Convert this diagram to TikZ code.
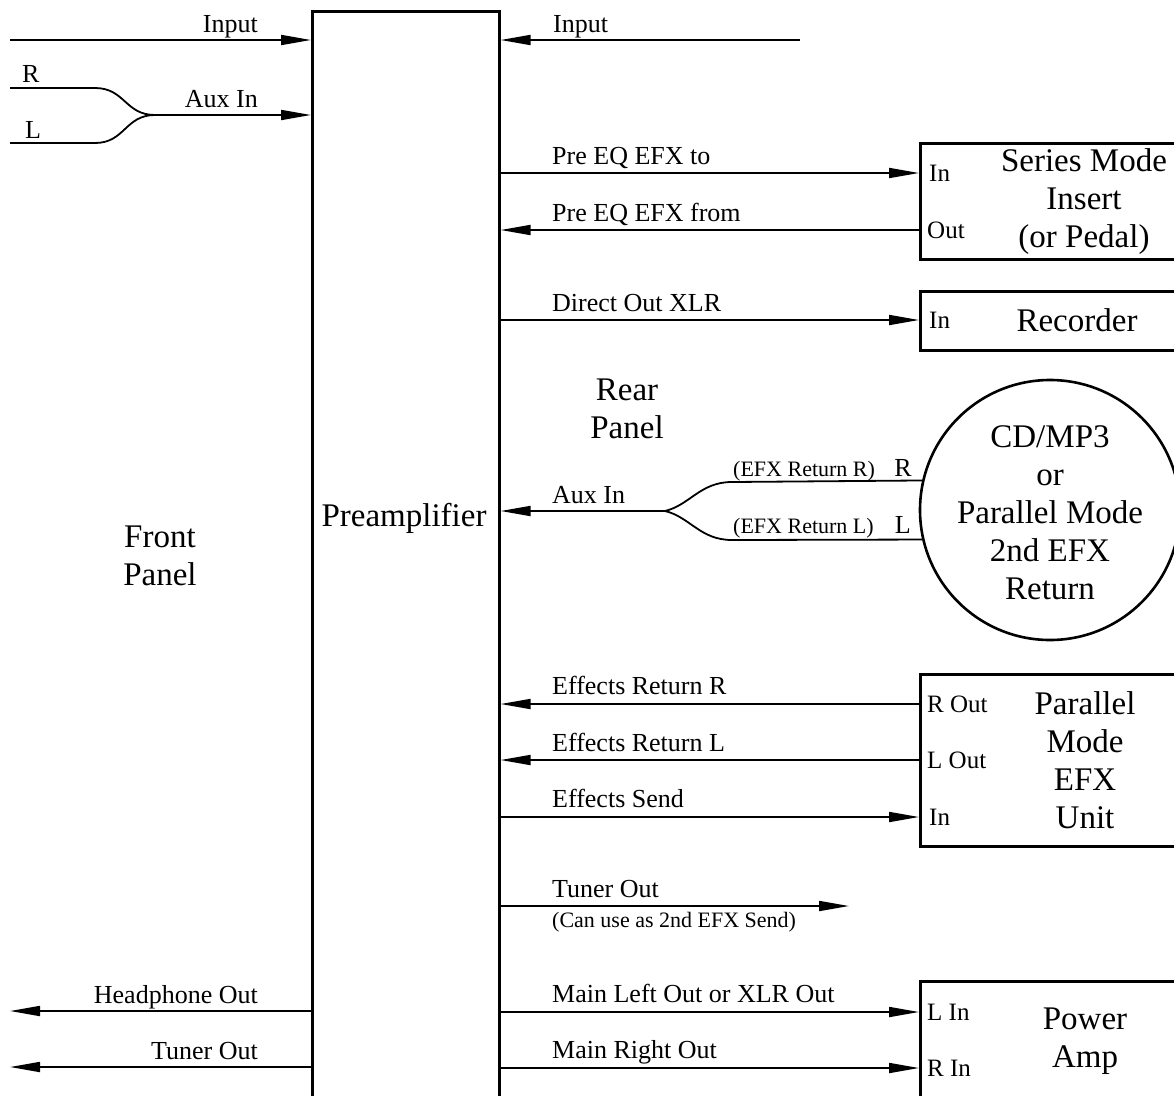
\documentclass[tikz,border=0pt]{standalone}
\usepackage{fontspec}
\setmainfont{Liberation Serif}
\usetikzlibrary{arrows.meta}
\begin{document}
\begin{tikzpicture}[x=1pt,y=-1pt,
  ln/.style={line width=1.8pt},
  arr/.style={ln,-{Triangle[length=30pt,width=10pt]}},
  boxst/.style={draw,line width=2.6pt,anchor=north west,inner sep=0pt,minimum width=300pt},
  lab/.style={font=\fontsize{26}{30}\selectfont,inner sep=0pt},
  port/.style={font=\fontsize{25}{30}\selectfont,inner sep=0pt,anchor=west},
  small/.style={font=\fontsize{22}{26}\selectfont,inner sep=0pt},
  big/.style={font=\fontsize{33}{38}\selectfont,align=center,inner sep=0pt}]
\useasboundingbox (0,0) rectangle (1174,1095);
\clip (0,0) rectangle (1174,1095);

% main blocks
\node[boxst,minimum width=187pt,minimum height=1200pt] (pre) at (311,10) {};
\node[big] (preT) at (404,518) {Preamplifier};
\node[big] (front) at (160,556) {Front\\Panel};
\node[big] (rear) at (627,409) {Rear\\Panel};

\node[boxst,minimum height=116pt] (series) at (919,142) {};
\node[big] (seriesT) at (1084,202) {Series Mode\\Insert\\(or Pedal)};
\node[boxst,minimum height=59pt] (rec) at (919,290) {};
\node[big] (recT) at (1077,320) {Recorder};
\node[draw,circle,line width=2.6pt,minimum size=260pt,inner sep=0pt] (cd) at (1050,510) {};
\node[big] (cdT) at (1050,513) {CD/MP3\\or\\Parallel Mode\\2nd EFX\\Return};
\node[boxst,minimum height=172pt] (par) at (919,673) {};
\node[big] (parT) at (1085,760) {Parallel\\Mode\\EFX\\Unit};
\node[boxst,minimum height=200pt] (pow) at (919,980) {};
\node[big] (powT) at (1085,1041) {Power\\Amp};

% front panel
\coordinate (lin) at (10,40);
\draw[arr] (lin) -- (pre.west |- lin);
\node[lab,anchor=base east] (linL) at (258,32) {Input};
\coordinate (rS) at (10,88);
\coordinate (lS) at (10,143);
\coordinate (jL) at (155,115);
\draw[ln] (rS) -- (95,88) .. controls (125,88) and (125,115) .. (jL);
\draw[ln] (lS) -- (95,143) .. controls (125,143) and (125,115) .. (jL);
\draw[arr] (jL) -- (pre.west |- jL);
\node[lab,anchor=base west] (rSL) at (22,82) {R};
\node[lab,anchor=base west] (lSL) at (25,138) {L};
\node[lab,anchor=base east] (auxL) at (258,107) {Aux In};
\coordinate (hp) at (10,1011);
\draw[arr] (pre.west |- hp) -- (hp);
\node[lab,anchor=base east] (hpL) at (258,1003) {Headphone Out};
\coordinate (tl) at (10,1067);
\draw[arr] (pre.west |- tl) -- (tl);
\node[lab,anchor=base east] (tlL) at (258,1059) {Tuner Out};

% rear panel
\coordinate (rin) at (800,40);
\draw[arr] (rin) -- (pre.east |- rin);
\node[lab,anchor=base west] (rinL) at (553,32) {Input};

\node[port] (sIn) at (929,173) {In};
\draw[arr] (pre.east |- sIn) -- (series.west |- sIn);
\node[lab,anchor=base west] at (552,164) {Pre EQ EFX to};
\node[port] (sOut) at (927,230) {Out};
\draw[arr] (series.west |- sOut) -- (pre.east |- sOut);
\node[lab,anchor=base west] at (552,221) {Pre EQ EFX from};

\node[port] (rIn) at (929,320) {In};
\draw[arr] (pre.east |- rIn) -- (rec.west |- rIn);
\node[lab,anchor=base west] at (552,311) {Direct Out XLR};

\coordinate (jR) at (665,511);
\draw[ln] (jR) .. controls (690,505) and (700,482) .. (732,482) -- (cd.167.6);
\draw[ln] (jR) .. controls (690,517) and (700,540) .. (732,540) -- (cd.193.3);
\draw[arr] (jR) -- (pre.east |- jR);
\node[lab,anchor=base west] at (552,503) {Aux In};
\node[small,anchor=base west] at (733,476) {(EFX Return R)};
\node[lab,anchor=base east] at (912,476) {R};
\node[small,anchor=base west] at (733,533) {(EFX Return L)};
\node[lab,anchor=base east] at (911,533) {L};

\node[port] (pR) at (927,704) {R Out};
\draw[arr] (par.west |- pR) -- (pre.east |- pR);
\node[lab,anchor=base west] at (552,694) {Effects Return R};
\node[port] (pL) at (927,760) {L Out};
\draw[arr] (par.west |- pL) -- (pre.east |- pL);
\node[lab,anchor=base west] at (552,751) {Effects Return L};
\node[port] (pI) at (929,817) {In};
\draw[arr] (pre.east |- pI) -- (par.west |- pI);
\node[lab,anchor=base west] at (552,807) {Effects Send};

\coordinate (tun) at (849,906);
\draw[arr] (pre.east |- tun) -- (tun);
\node[lab,anchor=base west] at (552,897) {Tuner Out};
\node[small,anchor=base west] at (552,927) {(Can use as 2nd EFX Send)};

\node[port] (aL) at (927,1012) {L In};
\draw[arr] (pre.east |- aL) -- (pow.west |- aL);
\node[lab,anchor=base west] at (552,1002) {Main Left Out or XLR Out};
\node[port] (aR) at (927,1068) {R In};
\draw[arr] (pre.east |- aR) -- (pow.west |- aR);
\node[lab,anchor=base west] at (552,1058) {Main Right Out};
\end{tikzpicture}
\end{document}
